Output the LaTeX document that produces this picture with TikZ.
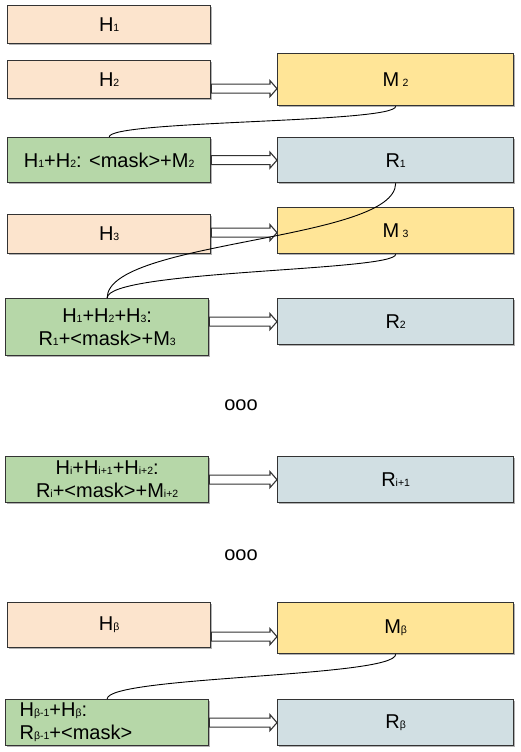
\documentclass[tikz,border=0pt]{standalone}
\usepackage{fontspec}
\setmainfont{Liberation Sans}
\usetikzlibrary{shadows,calc}
\definecolor{hfill}{HTML}{FCE4CD}
\definecolor{mfill}{HTML}{FFE597}
\definecolor{gfill}{HTML}{B6D7A8}
\definecolor{rfill}{HTML}{D1DFE3}
\definecolor{edge}{HTML}{333333}
\newcommand\sbs[1]{{\fontsize{10.5}{10.5}\selectfont #1}}
\begin{document}
\begin{tikzpicture}[x=1pt,y=-1pt,
  font=\fontsize{20}{23}\selectfont,
  box/.style={draw=edge, line width=1.3pt, inner sep=0pt, anchor=north west,
    drop shadow={shadow xshift=1pt,shadow yshift=-1.5pt,opacity=0.3,fill=black}},
  lbox/.style={box, minimum width=203pt},
  rbox/.style={box, minimum width=236pt},
  hbox/.style={lbox, fill=hfill},
  gbox/.style={lbox, fill=gfill, align=center},
  mbox/.style={rbox, fill=mfill},
  resbox/.style={rbox, fill=rfill},
  link/.style={draw=black, line width=0.9pt},
  hollow/.style={draw=edge, line width=1.1pt, fill=white,
    to path={let \p1=(\tikztostart), \p2=(\tikztotarget) in
      (\x1,\y1+4.5pt) -- (\x2-7pt,\y1+4.5pt) -- (\x2-7pt,\y1+8pt) -- (\x2,\y1)
      -- (\x2-7pt,\y1-8pt) -- (\x2-7pt,\y1-4.5pt) -- (\x1,\y1-4.5pt) -- cycle}},
  dots/.style={font=\fontsize{20}{23}\selectfont}
]
\useasboundingbox (0,0) rectangle (520,752);

% row nodes
\node[hbox, minimum height=38pt] (h1) at (7,5) {H\sbs{1}};
\node[hbox, minimum height=38pt] (h2) at (7,60) {H\sbs{2}};
\node[mbox, minimum height=52pt] (m2) at (277,53) {M\,\sbs{2}};
\node[gbox, minimum height=45pt] (g1) at (7,137) {H\sbs{1}+H\sbs{2}: <mask>+M\sbs{2}};
\node[resbox, minimum height=45pt] (r1) at (277,137) {R\sbs{1}};

\node[hbox, minimum height=39pt] (h3) at (7,214) {H\sbs{3}};
\node[mbox, minimum height=46pt] (m3) at (277,207) {M\,\sbs{3}};
\node[gbox, minimum height=57pt] (g2) at (5,298) {H\sbs{1}+H\sbs{2}+H\sbs{3}:\\R\sbs{1}+<mask>+M\sbs{3}};
\node[resbox, minimum height=46pt] (r2) at (277,298) {R\sbs{2}};

\node[dots] (d1) at (241,405) {ooo};

\node[gbox, minimum height=46pt] (g3) at (5,456) {H\sbs{i}+H\sbs{i+1}+H\sbs{i+2}:\\R\sbs{i}+<mask>+M\sbs{i+2}};
\node[resbox, minimum height=46pt] (r3) at (277,456) {R\sbs{i+1}};

\node[dots] (d2) at (241,555) {ooo};

\node[hbox, minimum height=45pt] (hb) at (7,602) {H\sbs{β}};
\node[mbox, minimum height=51pt] (mb) at (277,602) {M\sbs{β}};
\node[lbox, fill=gfill, minimum height=46pt, text width=175pt, inner xsep=14pt, align=left] (g4) at (5,699) {H\sbs{β-1}+H\sbs{β}:\\R\sbs{β-1}+<mask>};
\node[resbox, minimum height=46pt] (rb) at (277,699) {R\sbs{β}};

% hollow arrows
\draw[hollow] ([yshift=-9pt]h2.east) to (m2.west);
\draw[hollow] (g1.east) to (r1.west);
\draw[hollow] ([yshift=1.5pt]h3.east) to (m3.west);
\draw[hollow] ([yshift=5.5pt]g2.east) to (r2.west);
\draw[hollow] (g3.east) to (r3.west);
\draw[hollow] ([yshift=-11.5pt]hb.east) to (mb.west);
\draw[hollow] (g4.east) to (rb.west);

% curved links
\draw[link] (m2.south) .. controls +(0,17) and +(0,-17) .. (g1.north);
\draw[link] (r1.south) .. controls +(0,58) and +(0,-58) .. (g2.north);
\draw[link] (m3.south) .. controls +(0,17) and +(0,-28) .. (g2.north);
\draw[link] (mb.south) .. controls +(0,23) and +(0,-23) .. (g4.north);
\end{tikzpicture}
\end{document}
